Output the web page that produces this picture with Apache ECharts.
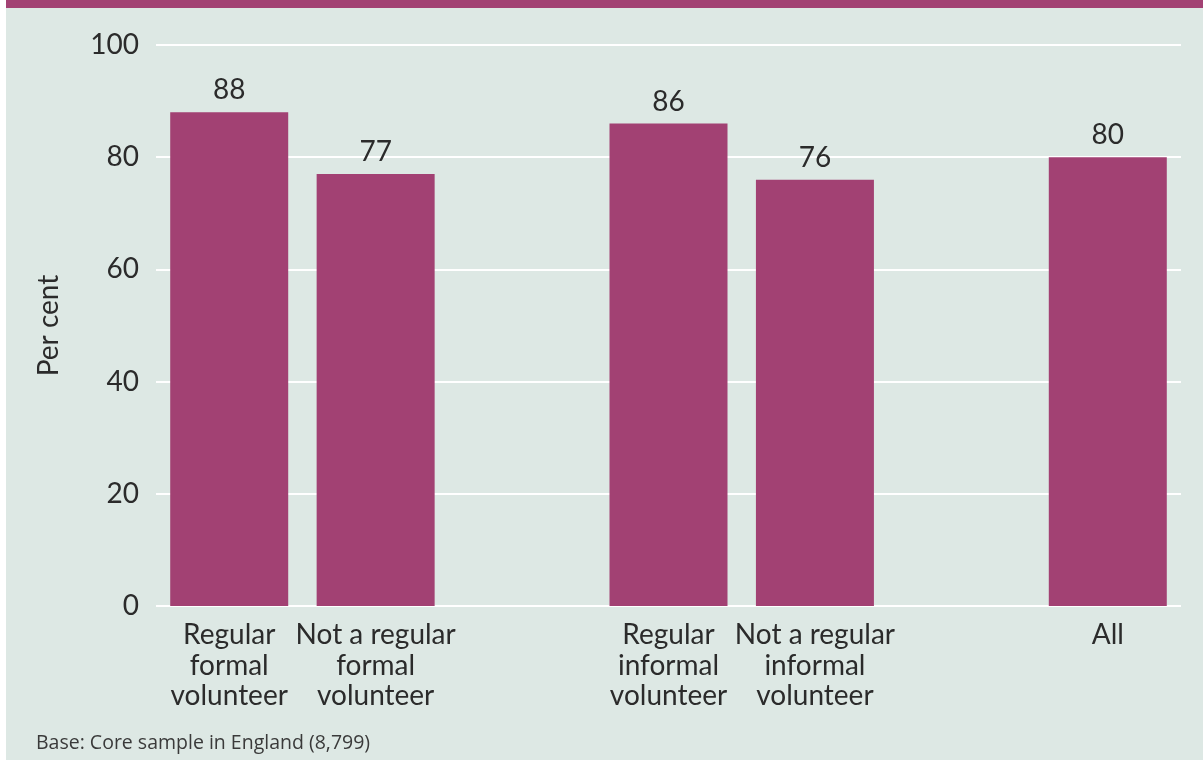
<!DOCTYPE html>
<html>
<head>
<meta charset="utf-8">
<script src="https://cdn.jsdelivr.net/npm/echarts@6/dist/echarts.min.js"></script>
<style>
  html, body { margin: 0; padding: 0; background: #ffffff; }
  #frame { position: absolute; left: 6px; top: 0; width: 1197px; height: 760px; background: #dde8e4; }
  #band { position: absolute; left: 0; top: 0; width: 1197px; height: 8px; background: #a24173; }
  #chart { position: absolute; left: 0; top: 0; width: 1203px; height: 760px; }
</style>
</head>
<body>
<div id="frame"><div id="band"></div></div>
<div id="chart"></div>
<script>
// Share of people in each volunteering group (per cent); blank slots separate the groups
const categories = [
  'Regular\nformal\nvolunteer',
  'Not a regular\nformal\nvolunteer',
  '',
  'Regular\ninformal\nvolunteer',
  'Not a regular\ninformal\nvolunteer',
  '',
  'All'
];
const values = [88, 77, null, 86, 76, null, 80];
const yTicks = [0, 20, 40, 60, 80, 100];
const axisTitle = 'Per cent';
const baseNote = 'Base: Core sample in England (8,799)';

const LABEL_FONT = 'Lato, "Open Sans", sans-serif';
const NOTE_FONT = '"Open Sans", "DejaVu Sans", sans-serif';
const TEXT = '#2b2b2b';
const BAR = '#a24173';
const SIZE = 28;

const chart = echarts.init(document.getElementById('chart'), null, { renderer: 'canvas' });
chart.setOption({
  backgroundColor: 'transparent',
  animation: false,
  grid: { left: 156, right: 22, top: 45, bottom: 154, containLabel: false },
  graphic: [{
    type: 'text',
    left: 36,
    top: 733,
    style: { text: baseNote, font: '19.5px ' + NOTE_FONT, fill: '#3a3a3a' }
  }],
  xAxis: {
    type: 'category',
    data: categories,
    axisLine: { show: false },
    axisTick: { show: false },
    axisLabel: {
      interval: 0,
      margin: 14,
      color: TEXT,
      fontFamily: LABEL_FONT,
      fontSize: SIZE,
      lineHeight: 30.5
    }
  },
  yAxis: {
    type: 'value',
    min: yTicks[0],
    max: yTicks[yTicks.length - 1],
    interval: yTicks[1] - yTicks[0],
    name: axisTitle,
    nameLocation: 'middle',
    nameGap: 93,
    nameRotate: 90,
    nameTextStyle: { color: TEXT, fontFamily: LABEL_FONT, fontSize: SIZE },
    axisLine: { show: false },
    axisTick: { show: false },
    axisLabel: { color: TEXT, fontFamily: LABEL_FONT, fontSize: SIZE, margin: 17 },
    splitLine: { lineStyle: { color: '#ffffff', width: 2 } }
  },
  series: [{
    type: 'bar',
    data: values,
    barWidth: 118,
    itemStyle: { color: BAR },
    label: {
      show: true,
      position: 'top',
      distance: 8,
      color: TEXT,
      fontFamily: LABEL_FONT,
      fontSize: SIZE
    }
  }]
});
</script>
</body>
</html>
